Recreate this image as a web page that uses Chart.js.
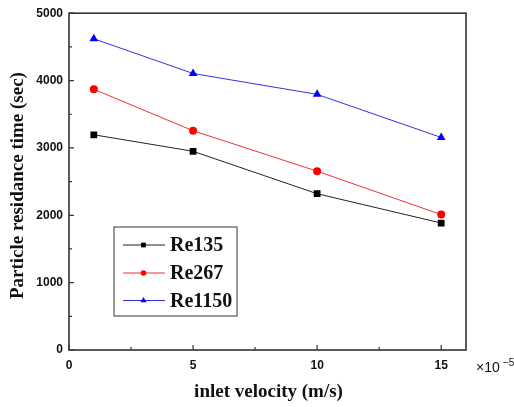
<!DOCTYPE html>
<html>
<head>
<meta charset="utf-8">
<script src="https://cdn.jsdelivr.net/npm/chart.js@4/dist/chart.umd.min.js"></script>
<style>
html,body{margin:0;padding:0;background:#fff;}
#wrap{width:514px;height:407px;position:relative;}
</style>
</head>
<body>
<div id="wrap"><canvas id="c" width="514" height="407"></canvas></div>
<script>
const velocities = [1, 5, 10, 15];
const re135 = [3195, 2950, 2320, 1885];
const re267 = [3870, 3255, 2655, 2010];
const re1150 = [4620, 4105, 3795, 3155];
const seriesLabels = ['Re135', 'Re267', 'Re1150'];
const xTicks = [0, 5, 10, 15];
const xMinorTicks = [2.5, 7.5, 12.5];
const yTicks = [0, 1000, 2000, 3000, 4000, 5000];
const yMinorTicks = [500, 1500, 2500, 3500, 4500];
const xTitle = 'inlet velocity (m/s)';
const yTitle = 'Particle residance time (sec)';

function pts(arr){ return velocities.map((v,i)=>({x:v,y:arr[i]})); }

const decor = {
  id:'decor',
  afterDraw(chart){
    const ctx = chart.ctx, a = chart.chartArea;
    const xs = chart.scales.x, ys = chart.scales.y;
    ctx.save();
    // frame
    ctx.strokeStyle = '#333';
    ctx.lineWidth = 1.6;
    ctx.strokeRect(a.left, a.top, a.right - a.left, a.bottom - a.top);
    // inward ticks
    ctx.lineWidth = 1.2;
    ctx.beginPath();
    xTicks.forEach(v=>{ const p = xs.getPixelForValue(v); ctx.moveTo(p, a.bottom); ctx.lineTo(p, a.bottom-5); });
    xMinorTicks.forEach(v=>{ const p = xs.getPixelForValue(v); ctx.moveTo(p, a.bottom); ctx.lineTo(p, a.bottom-3); });
    yTicks.forEach(v=>{ const p = ys.getPixelForValue(v); ctx.moveTo(a.left, p); ctx.lineTo(a.left+5, p); });
    yMinorTicks.forEach(v=>{ const p = ys.getPixelForValue(v); ctx.moveTo(a.left, p); ctx.lineTo(a.left+3, p); });
    ctx.stroke();
    // axis titles
    ctx.fillStyle = '#111';
    ctx.font = 'bold 19px "Liberation Serif", "Times New Roman", serif';
    ctx.textAlign = 'center';
    ctx.textBaseline = 'middle';
    ctx.fillText(xTitle, (a.left + a.right)/2 + 1, 392);
    ctx.save();
    ctx.translate(18, (a.top + a.bottom)/2 + 4);
    ctx.rotate(-Math.PI/2);
    ctx.fillText(yTitle, 0, 0);
    ctx.restore();
    // exponent label
    ctx.font = '14px "Liberation Sans", Arial, sans-serif';
    ctx.textAlign = 'left';
    ctx.fillText('\u00d710', 476, 368);
    ctx.font = '10px "Liberation Sans", Arial, sans-serif';
    ctx.fillText('\u22125', 503, 363);
    // legend
    const lx = 114, ly = 227, lw = 123, lh = 89;
    ctx.strokeStyle = '#555';
    ctx.lineWidth = 1.2;
    ctx.strokeRect(lx, ly, lw, lh);
    const rowsY = [245, 273, 300.5];
    chart.data.datasets.forEach((ds, i)=>{
      const y = rowsY[i];
      ctx.strokeStyle = ds.borderColor;
      ctx.lineWidth = 1;
      ctx.beginPath(); ctx.moveTo(123, y); ctx.lineTo(165, y); ctx.stroke();
      ctx.fillStyle = ds.pointBackgroundColor;
      ctx.strokeStyle = ds.pointBorderColor;
      Chart.helpers.drawPoint(ctx, {pointStyle: ds.pointStyle, radius: ds.pointRadius*0.7, borderWidth:0}, 143.5, y);
      ctx.fillStyle = '#111';
      ctx.font = 'bold 20px "Liberation Serif", "Times New Roman", serif';
      ctx.textAlign = 'left';
      ctx.textBaseline = 'middle';
      ctx.fillText(ds.label, 170, y + 1);
    });
    ctx.restore();
  }
};

const colors = ['#000000', '#ff0000', '#0000ff'];
const lineColors = ['#222222', '#ee3333', '#3333dd'];
const styles = ['rect', 'circle', 'triangle'];
const radii = [4.8, 4.0, 5.0];
const dataArr = [re135, re267, re1150];

new Chart(document.getElementById('c'), {
  type: 'scatter',
  data: {
    datasets: dataArr.map((d,i)=>({
      label: seriesLabels[i],
      data: pts(d),
      showLine: true,
      borderColor: lineColors[i],
      backgroundColor: colors[i],
      borderWidth: 1,
      pointStyle: styles[i],
      pointRadius: radii[i],
      pointBorderWidth: 0,
      pointBackgroundColor: colors[i],
      pointBorderColor: colors[i],
      tension: 0
    }))
  },
  options: {
    responsive: false,
    animation: false,
    devicePixelRatio: 1,
    layout: { padding: { top: 13, right: 48, left: 0, bottom: 0 } },
    plugins: { legend: { display: false }, tooltip: { enabled: false } },
    scales: {
      x: {
        type: 'linear', min: 0, max: 16,
        afterBuildTicks: s => { s.ticks = xTicks.map(v=>({value:v})); },
        afterFit: s => { s.height = 57; },
        grid: { display: false, drawTicks: false },
        border: { display: false },
        ticks: { padding: 8, color: '#111', callback: v => String(v), font: { family: '"Liberation Sans", Arial, sans-serif', size: 12, weight: 'bold' }, maxRotation: 0, autoSkip: false }
      },
      y: {
        type: 'linear', min: 0, max: 5000,
        afterBuildTicks: s => { s.ticks = yTicks.map(v=>({value:v})); },
        afterFit: s => { s.width = 69; },
        grid: { display: false, drawTicks: false },
        border: { display: false },
        ticks: { padding: 6, color: '#111', callback: v => String(v), font: { family: '"Liberation Sans", Arial, sans-serif', size: 12, weight: 'bold' } }
      }
    }
  },
  plugins: [decor]
});
</script>
</body>
</html>
